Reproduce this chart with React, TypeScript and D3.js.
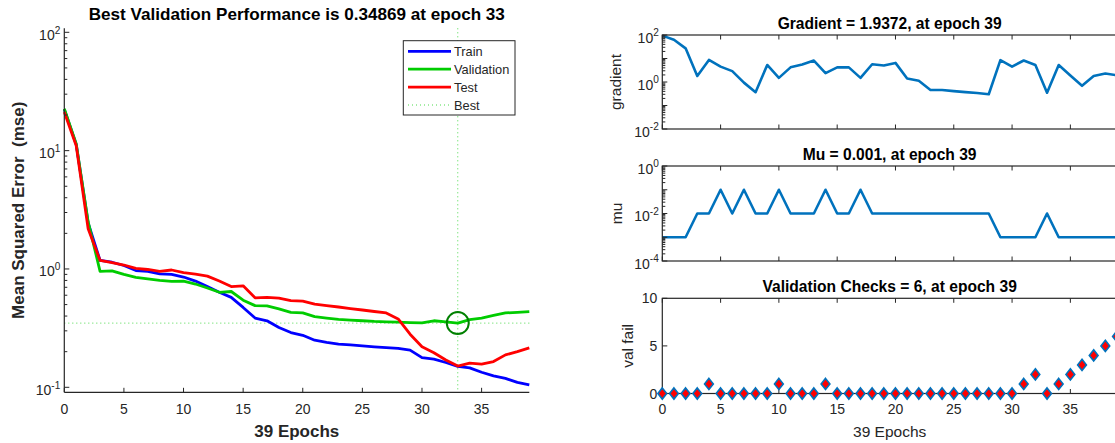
import React from "react";
import * as d3 from "d3";

// ---- data ----
const epochs = d3.range(0, 40);

const trainPerf = [
  22.3, 11.3, 2.45, 1.18, 1.14, 1.07, 0.97, 0.955, 0.91, 0.9,
  0.855, 0.79, 0.71, 0.635, 0.575, 0.473, 0.385, 0.365, 0.32, 0.29,
  0.275, 0.25, 0.24, 0.232, 0.228, 0.224, 0.22, 0.216, 0.213, 0.206,
  0.178, 0.173, 0.162, 0.15, 0.146, 0.134, 0.125, 0.119, 0.11, 0.105,
];
const valPerf = [
  22.6, 11.4, 2.5, 0.955, 0.965, 0.9, 0.85, 0.825, 0.8, 0.785,
  0.79, 0.746, 0.69, 0.635, 0.645, 0.545, 0.49, 0.487, 0.46, 0.43,
  0.425, 0.395, 0.385, 0.375, 0.37, 0.365, 0.36, 0.357, 0.355, 0.352,
  0.35, 0.365, 0.357, 0.34869, 0.373, 0.385, 0.405, 0.425, 0.43, 0.436,
];
const testPerf = [
  21.2, 11.0, 2.19, 1.18, 1.13, 1.08, 1.01, 0.99, 0.955, 0.98,
  0.93, 0.905, 0.87, 0.79, 0.71, 0.72, 0.57, 0.575, 0.568, 0.54,
  0.535, 0.505, 0.49, 0.477, 0.463, 0.45, 0.437, 0.425, 0.378, 0.281,
  0.22, 0.196, 0.17, 0.151, 0.16, 0.157, 0.165, 0.188, 0.2, 0.215,
];
const gradient = [
  94, 63, 27, 1.8, 8.7, 4.5, 2.9, 0.94, 0.37, 5.3,
  1.5, 4.2, 5.5, 8.2, 2.4, 4.2, 4.2, 1.5, 5.7, 5.0,
  6.5, 1.4, 1.14, 0.46, 0.46, 0.41, 0.37, 0.34, 0.3, 8.5,
  4.5, 8.2, 5.3, 0.35, 5.3, 1.9, 0.69, 1.8, 2.3, 1.9372,
];
const mu = [
  1e-3, 1e-3, 1e-3, 1e-2, 1e-2, 1e-1, 1e-2, 1e-1, 1e-2, 1e-2,
  1e-1, 1e-2, 1e-2, 1e-2, 1e-1, 1e-2, 1e-2, 1e-1, 1e-2, 1e-2,
  1e-2, 1e-2, 1e-2, 1e-2, 1e-2, 1e-2, 1e-2, 1e-2, 1e-2, 1e-3,
  1e-3, 1e-3, 1e-3, 1e-2, 1e-3, 1e-3, 1e-3, 1e-3, 1e-3, 1e-3,
];
const valFail = [
  0, 0, 0, 0, 1, 0, 0, 0, 0, 0,
  1, 0, 0, 0, 1, 0, 0, 0, 0, 0,
  0, 0, 0, 0, 0, 0, 0, 0, 0, 0,
  0, 1, 2, 0, 1, 2, 3, 4, 5, 6,
];
const bestEpoch = 33;
const bestPerf = 0.34869;
const xTickValues = [0, 5, 10, 15, 20, 25, 30, 35];
const legendNames = ["Train", "Validation", "Test", "Best"];

const FONT = '"Liberation Sans", Arial, Helvetica, sans-serif';
const AX = "#262626";
const MBLUE = "#0072bd";

// log axis tick helpers
function logMajor(lo: number, hi: number) {
  const out: number[] = [];
  for (let k = Math.ceil(Math.log10(lo) - 1e-9); k <= Math.floor(Math.log10(hi) + 1e-9); k++) out.push(Math.pow(10, k));
  return out;
}
function logMinor(lo: number, hi: number) {
  const out: number[] = [];
  for (let k = Math.floor(Math.log10(lo)); k <= Math.ceil(Math.log10(hi)); k++) {
    for (let m = 2; m <= 9; m++) {
      const v = m * Math.pow(10, k);
      if (v >= lo && v <= hi) out.push(v);
    }
  }
  return out;
}

const PowLabel = ({ x, y, v, size }: { x: number; y: number; v: number; size: number }) => {
  const e = Math.round(Math.log10(v));
  return (
    <text x={x} y={y} textAnchor="end" fontSize={size} fill={AX} fontFamily={FONT}>
      10
      <tspan dy={-size * 0.45} fontSize={size * 0.72}>{String(e)}</tspan>
    </text>
  );
};

// ---- left: performance plot ----
const L = { left: 64.3, right: 529.3, top: 28.3, bottom: 392.3 };
const xL = d3.scaleLinear().domain([0, 39]).range([L.left, L.right]);
const yL = d3.scaleLog().domain([0.1, 100]).range([387.3, 32.3]);

// ---- right: training state plots ----
const R = { left: 662.3, right: 1117 };
const xR = d3.scaleLinear().domain([0, 39]).range([R.left, R.right]);
const G = { top: 35, bottom: 129 };
const yG = d3.scaleLog().domain([1e-2, 1e2]).range([G.bottom, G.top]);
const M = { top: 166, bottom: 261 };
const yM = d3.scaleLog().domain([1e-4, 1]).range([M.bottom, M.top]);
const V = { top: 298.3, bottom: 393.5 };
const yV = d3.scaleLinear().domain([0, 10]).range([V.bottom, V.top]);

function PerfPlot() {
  const lo = yL.invert(L.bottom);
  const hi = yL.invert(L.top);
  const line = (vals: number[]) =>
    d3.line<number>().x((_, i) => xL(epochs[i])).y((d) => yL(d))(vals) || "";
  const series = [
    { name: "Train", vals: trainPerf, color: "#0000ff" },
    { name: "Validation", vals: valPerf, color: "#00cc00" },
    { name: "Test", vals: testPerf, color: "#ff0000" },
  ];
  return (
    <g>
      {/* best markers */}
      <line x1={xL(bestEpoch)} x2={xL(bestEpoch)} y1={L.top} y2={L.bottom} stroke="#00cc00" strokeWidth={1} strokeDasharray="1 3" opacity={0.7} />
      <line x1={L.left} x2={L.right} y1={yL(bestPerf)} y2={yL(bestPerf)} stroke="#00cc00" strokeWidth={1} strokeDasharray="1 3" opacity={0.7} />
      {series.map((s) => (
        <path key={s.name} d={line(s.vals)} fill="none" stroke={s.color} strokeWidth={2.8} strokeLinejoin="round" />
      ))}
      <circle cx={xL(bestEpoch)} cy={yL(bestPerf)} r={11} fill="none" stroke="#008000" strokeWidth={2} />

      {/* axes */}
      <line x1={L.left} x2={L.left} y1={L.top} y2={L.bottom} stroke={AX} strokeWidth={1.2} />
      <line x1={L.left} x2={L.right} y1={L.bottom} y2={L.bottom} stroke={AX} strokeWidth={1.2} />
      {logMajor(lo, hi).map((v) => (
        <g key={"M" + v}>
          <line x1={L.left} x2={L.left + 5} y1={yL(v)} y2={yL(v)} stroke={AX} />
          <PowLabel x={L.left - 4} y={yL(v) + 7.5} v={v} size={14} />
        </g>
      ))}
      {logMinor(lo, hi).map((v) => (
        <line key={"m" + v} x1={L.left} x2={L.left + 3} y1={yL(v)} y2={yL(v)} stroke={AX} />
      ))}
      {xTickValues.map((t) => (
        <g key={t}>
          <line x1={xL(t)} x2={xL(t)} y1={L.bottom} y2={L.bottom - 4.5} stroke={AX} />
          <text x={xL(t)} y={414} textAnchor="middle" fontSize={14} fill={AX} fontFamily={FONT}>{t}</text>
        </g>
      ))}

      {/* legend */}
      <rect x={403.3} y={40.7} width={111.7} height={74.3} fill="#fff" stroke={AX} strokeWidth={1} />
      {legendNames.map((name, i) => {
        const y = 51.3 + i * 17.9;
        const s = series[i];
        return (
          <g key={name}>
            {s ? (
              <line x1={408} x2={451} y1={y} y2={y} stroke={s.color} strokeWidth={2.8} />
            ) : (
              <line x1={408} x2={451} y1={y} y2={y} stroke="#00cc00" strokeWidth={1} strokeDasharray="1 3" opacity={0.7} />
            )}
            <text x={454} y={y + 4.6} fontSize={12.8} fill={AX} fontFamily={FONT}>{name}</text>
          </g>
        );
      })}

      <text x={(L.left + L.right) / 2} y={20} textAnchor="middle" fontSize={17.1} fontWeight="bold" fill="#000" fontFamily={FONT}>
        Best Validation Performance is 0.34869 at epoch 33
      </text>
      <text x={(L.left + L.right) / 2} y={437} textAnchor="middle" fontSize={17} fontWeight="bold" fill={AX} fontFamily={FONT}>
        39 Epochs
      </text>
      <text transform={`translate(23.5, ${(L.top + L.bottom) / 2}) rotate(-90)`} textAnchor="middle" fontSize={17} fontWeight="bold" fill={AX} fontFamily={FONT} style={{ whiteSpace: "pre" }}>
        {"Mean Squared Error  (mse)"}
      </text>
    </g>
  );
}

function LogPanel({ y, box, vals, title, label, labelX }: { y: d3.ScaleLogarithmic<number, number>; box: { top: number; bottom: number }; vals: number[]; title: string; label: string; labelX: number }) {
  const [lo, hi] = y.domain();
  const path = d3.line<number>().x((_, i) => xR(epochs[i])).y((d) => y(d))(vals) || "";
  const majors = logMajor(lo, hi);
  const labelled = majors.filter((_, i) => i % Math.max(1, Math.round((majors.length - 1) / 2)) === 0);
  return (
    <g>
      <path d={path} fill="none" stroke={MBLUE} strokeWidth={2.6} strokeLinejoin="round" />
      <rect x={R.left} y={box.top} width={R.right - R.left} height={box.bottom - box.top} fill="none" stroke={AX} strokeWidth={1.2} />
      {majors.map((v) => (
        <line key={"M" + v} x1={R.left} x2={R.left + 5} y1={y(v)} y2={y(v)} stroke={AX} />
      ))}
      {logMinor(lo, hi).map((v) => (
        <line key={"m" + v} x1={R.left} x2={R.left + 3} y1={y(v)} y2={y(v)} stroke={AX} />
      ))}
      {labelled.map((v) => (
        <PowLabel key={"l" + v} x={R.left - 3.5} y={y(v) + 7.5} v={v} size={14} />
      ))}
      {xTickValues.map((t) => (
        <g key={t}>
          <line x1={xR(t)} x2={xR(t)} y1={box.bottom} y2={box.bottom - 4.5} stroke={AX} />
          <line x1={xR(t)} x2={xR(t)} y1={box.top} y2={box.top + 4.5} stroke={AX} />
        </g>
      ))}
      <text x={(R.left + R.right) / 2} y={box.top - 6.5} textAnchor="middle" fontSize={15.6} fontWeight="bold" fill="#000" fontFamily={FONT}>
        {title}
      </text>
      <text transform={`translate(${labelX}, ${(box.top + box.bottom) / 2}) rotate(-90)`} textAnchor="middle" fontSize={15.5} fill={AX} fontFamily={FONT}>
        {label}
      </text>
    </g>
  );
}

function ValPanel() {
  const diamond = "M0,-5.6L4.4,0L0,5.6L-4.4,0Z";
  return (
    <g>
      <rect x={R.left} y={V.top} width={R.right - R.left} height={V.bottom - V.top} fill="none" stroke={AX} strokeWidth={1.2} />
      {yV.ticks(2).map((v) => (
        <g key={v}>
          <line x1={R.left} x2={R.left + 5} y1={yV(v)} y2={yV(v)} stroke={AX} />
          <text x={R.left - 5} y={yV(v) + 5} textAnchor="end" fontSize={14} fill={AX} fontFamily={FONT}>{v}</text>
        </g>
      ))}
      {xTickValues.map((t) => (
        <g key={t}>
          <line x1={xR(t)} x2={xR(t)} y1={V.bottom} y2={V.bottom - 4.5} stroke={AX} />
          <line x1={xR(t)} x2={xR(t)} y1={V.top} y2={V.top + 4.5} stroke={AX} />
          <text x={xR(t)} y={414} textAnchor="middle" fontSize={14} fill={AX} fontFamily={FONT}>{t}</text>
        </g>
      ))}
      {valFail.map((v, i) => (
        <path key={i} d={diamond} transform={`translate(${xR(epochs[i])},${yV(v)})`} fill="#ff0000" stroke={MBLUE} strokeWidth={1.6} />
      ))}
      <text x={(R.left + R.right) / 2} y={V.top - 6.5} textAnchor="middle" fontSize={15.6} fontWeight="bold" fill="#000" fontFamily={FONT}>
        Validation Checks = 6, at epoch 39
      </text>
      <text x={(R.left + R.right) / 2} y={437} textAnchor="middle" fontSize={15.5} fill={AX} fontFamily={FONT}>
        39 Epochs
      </text>
      <text transform={`translate(633, ${(V.top + V.bottom) / 2}) rotate(-90)`} textAnchor="middle" fontSize={15.5} fill={AX} fontFamily={FONT}>
        val fail
      </text>
    </g>
  );
}

export default function App() {
  return (
    <div style={{ position: "fixed", left: 0, top: 0, width: 1115, height: 443, overflow: "hidden", background: "#fff" }}>
      <svg width={1115} height={443} style={{ display: "block" }}>
        <rect width={1115} height={443} fill="#fff" />
        <PerfPlot />
        <LogPanel y={yG} box={G} vals={gradient} title="Gradient = 1.9372, at epoch 39" label="gradient" labelX={621} />
        <LogPanel y={yM} box={M} vals={mu} title="Mu = 0.001, at epoch 39" label="mu" labelX={622} />
        <ValPanel />
      </svg>
    </div>
  );
}
